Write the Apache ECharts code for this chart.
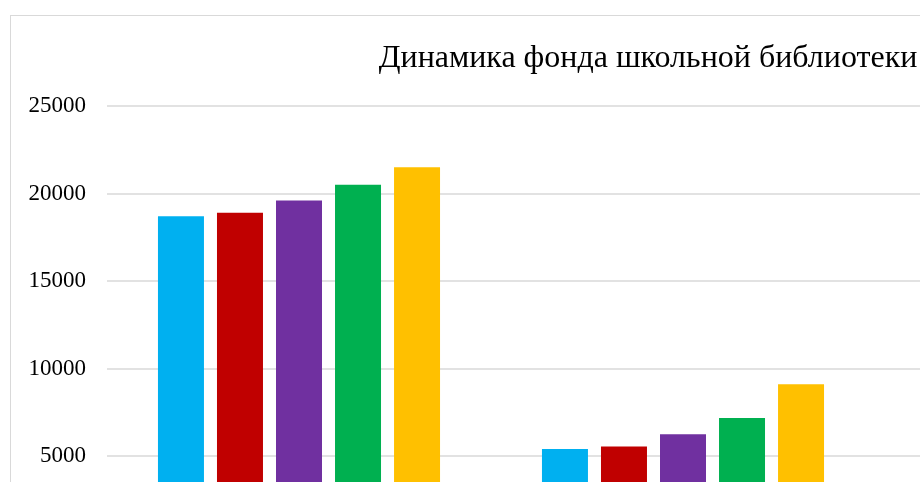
<!DOCTYPE html>
<html>
<head>
<meta charset="utf-8">
<script src="https://cdn.jsdelivr.net/npm/echarts@6/dist/echarts.min.js"></script>
<style>
  html, body { margin: 0; padding: 0; background: #fff; overflow: hidden; }
  #libChart {
    position: absolute; left: 10px; top: 15px;
    width: 1276px; height: 620px;
    border: 1.5px solid #d9d9d9; box-sizing: border-box;
  }
</style>
</head>
<body>
<div id="libChart"></div>
<script>
// categories (the labels sit below the visible part of the picture)
const categories = ['Общий фонд', 'Учебники', 'Художественная литература'];
const seriesNames = ['2017', '2018', '2019', '2020', '2021'];
const colors = ['#00B0F0', '#C00000', '#7030A0', '#00B050', '#FFC000'];

const y2017 = [18700, 5400, null];
const y2018 = [18900, 5550, null];
const y2019 = [19600, 6250, null];
const y2020 = [20500, 7170, null];
const y2021 = [21500, 9100, null];
const allValues = [y2017, y2018, y2019, y2020, y2021];

const yTicks = [0, 5000, 10000, 15000, 20000, 25000];

const chart = echarts.init(document.getElementById('libChart'), null, { renderer: 'canvas' });

const option = {
  animation: false,
  title: {
    text: 'Динамика фонда школьной библиотеки',
    left: 'center',
    top: 22,
    textStyle: {
      fontFamily: 'Liberation Serif',
      fontWeight: 'normal',
      fontSize: 32,
      color: '#000',
    },
  },
  grid: {
    left: 96,
    top: 90,
    width: 1152,
    height: 437.5,
    containLabel: false,
    outerBoundsMode: 'none',
  },
  xAxis: {
    type: 'category',
    data: categories,
    axisTick: { show: false },
    axisLine: { lineStyle: { color: '#d9d9d9', width: 1.5 } },
    axisLabel: { fontFamily: 'Liberation Serif', fontSize: 23, color: '#000' },
  },
  yAxis: {
    type: 'value',
    min: yTicks[0],
    max: yTicks[yTicks.length - 1],
    interval: 5000,
    axisLine: { show: false },
    axisTick: { show: false },
    axisLabel: {
      margin: 21,
      fontFamily: 'Liberation Serif',
      fontSize: 23,
      color: '#000',
      formatter: (v) => String(v),
    },
    splitLine: { lineStyle: { color: '#d9d9d9', width: 1.5 } },
  },
  series: seriesNames.map((name, i) => ({
    name: name,
    type: 'bar',
    data: allValues[i],
    barWidth: 46,
    barGap: '28.3%',
    itemStyle: { color: colors[i] },
  })),
};

chart.setOption(option);
</script>
</body>
</html>
